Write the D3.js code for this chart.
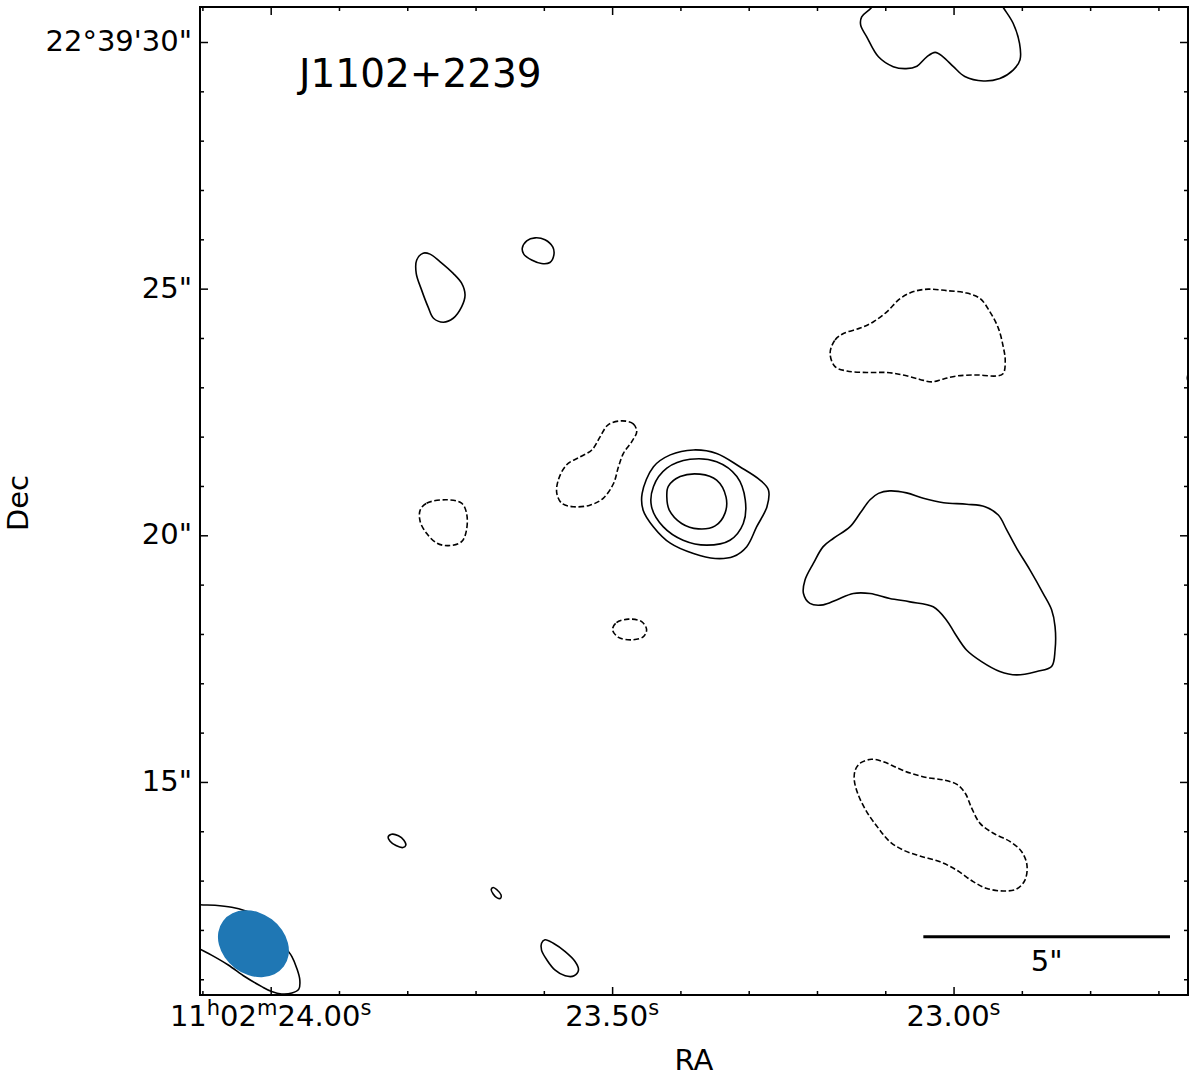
<!DOCTYPE html>
<html><head><meta charset="utf-8">
<script src="https://cdn.jsdelivr.net/npm/d3@7"></script>
<style>body{margin:0;background:#fff} svg text{font-family:"DejaVu Sans",sans-serif;fill:#000}</style>
</head><body><svg id="c" width="1200" height="1083"></svg>
<script>
// ---------- data (dx = arcsec west of 11h02m24.00s, dec = arcsec past 22°39') ----------
const title = "J1102+2239";
const raMajorSec = [24.00, 23.50, 23.00];
const raMajorLabels = [[["11",0],["h",1],["02",0],["m",1],["24.00",0],["s",1]], [["23.50",0],["s",1]], [["23.00",0],["s",1]]];
const decMajor = [30, 25, 20, 15];
const decMajorLabels = ["22°39'30\"", "25\"", "20\"", "15\""];

const posTopRight = [[12.18,30.70],[11.98,30.51],[11.96,30.34],[12.08,30.11],[12.32,29.70],[12.62,29.50],[12.88,29.46],[13.10,29.51],[13.30,29.70],[13.47,29.79],[13.63,29.70],[13.84,29.50],[14.07,29.30],[14.45,29.21],[14.78,29.26],[15.05,29.43],[15.19,29.64],[15.18,29.97],[15.05,30.38],[14.85,30.70],[14.60,31.10],[12.40,31.10]];
const posBlobA = [[3.09,25.72],[2.96,25.58],[2.95,25.31],[3.06,24.97],[3.19,24.63],[3.30,24.40],[3.50,24.32],[3.70,24.40],[3.87,24.63],[3.94,24.87],[3.87,25.11],[3.70,25.31],[3.43,25.55],[3.23,25.70]];
const posBlobB = [[5.10,25.82],[5.19,25.97],[5.36,26.03],[5.56,25.99],[5.72,25.84],[5.74,25.68],[5.66,25.53],[5.49,25.51],[5.29,25.58],[5.13,25.70]];
const coreOuter = [[7.76,21.39],[8.10,21.63],[8.57,21.73],[9.04,21.66],[9.51,21.39],[9.92,21.12],[10.09,20.92],[10.06,20.58],[9.85,20.17],[9.65,19.77],[9.38,19.57],[9.01,19.53],[8.57,19.63],[8.10,19.84],[7.76,20.17],[7.55,20.51],[7.53,20.85]];
const coreMid = [[7.76,20.99],[8.03,21.36],[8.50,21.54],[9.04,21.49],[9.45,21.19],[9.62,20.72],[9.58,20.24],[9.31,19.90],[8.84,19.80],[8.36,19.90],[7.96,20.17],[7.72,20.58]];
const coreInner = [[8.06,20.99],[8.30,21.19],[8.70,21.24],[9.04,21.12],[9.23,20.78],[9.21,20.45],[9.01,20.19],[8.67,20.13],[8.33,20.24],[8.08,20.51],[8.03,20.78]];
const posBlobF = [[12.32,20.85],[12.55,20.90],[12.89,20.86],[13.23,20.75],[13.64,20.66],[14.11,20.63],[14.48,20.58],[14.75,20.41],[14.92,20.11],[15.12,19.74],[15.39,19.30],[15.66,18.82],[15.83,18.49],[15.90,18.15],[15.90,17.67],[15.83,17.34],[15.53,17.24],[15.12,17.17],[14.78,17.24],[14.41,17.44],[14.11,17.67],[13.87,18.01],[13.70,18.28],[13.43,18.55],[12.96,18.65],[12.55,18.72],[12.15,18.82],[11.81,18.82],[11.47,18.69],[11.20,18.59],[10.93,18.62],[10.80,18.82],[10.83,19.09],[11.00,19.43],[11.20,19.77],[11.41,19.94],[11.74,20.17],[11.95,20.45],[12.15,20.72]];
const posTinyJ = [[2.38,13.88],[2.45,13.94],[2.59,13.91],[2.70,13.82],[2.74,13.72],[2.68,13.67],[2.54,13.71],[2.42,13.80]];
const posTinyK = [[4.47,12.82],[4.51,12.86],[4.59,12.81],[4.67,12.71],[4.66,12.64],[4.59,12.65],[4.51,12.73]];
const posDropM = [[5.49,11.73],[5.56,11.80],[5.73,11.73],[5.97,11.56],[6.17,11.36],[6.24,11.19],[6.15,11.07],[5.97,11.07],[5.76,11.19],[5.60,11.39],[5.49,11.59]];
const posEdgeL = [[-1.43,12.51],[-1.13,12.50],[-0.79,12.46],[-0.52,12.39],[-0.18,12.24],[0.09,12.00],[0.29,11.66],[0.43,11.46],[0.53,11.22],[0.59,10.99],[0.57,10.80],[0.43,10.72],[0.22,10.70],[0.02,10.75],[-0.18,10.85],[-0.52,11.05],[-0.86,11.29],[-1.20,11.49],[-1.43,11.61],[-1.90,11.85],[-1.90,12.55]];
const posEdgeR = [[18.58,23.19],[18.62,23.28],[18.72,23.31],[18.82,23.28],[18.86,23.19],[18.82,23.10],[18.72,23.07],[18.62,23.10]];

const negBlobC = [[7.12,22.32],[7.35,22.26],[7.42,22.10],[7.32,21.90],[7.15,21.66],[7.05,21.39],[6.95,21.05],[6.74,20.75],[6.47,20.61],[6.13,20.58],[5.90,20.65],[5.80,20.85],[5.83,21.12],[6.00,21.43],[6.27,21.59],[6.51,21.73],[6.68,22.00],[6.84,22.24]];
const negBlobD = [[3.03,20.51],[3.16,20.65],[3.57,20.72],[3.87,20.65],[3.97,20.45],[3.97,20.11],[3.87,19.87],[3.60,19.79],[3.37,19.84],[3.16,20.04],[3.03,20.28]];
const negBlobG = [[11.34,23.69],[11.44,23.96],[11.61,24.09],[11.95,24.20],[12.22,24.33],[12.49,24.53],[12.76,24.80],[13.03,24.94],[13.33,24.99],[13.70,24.96],[14.11,24.91],[14.38,24.80],[14.58,24.53],[14.75,24.20],[14.85,23.82],[14.89,23.55],[14.85,23.28],[14.72,23.23],[14.31,23.25],[13.91,23.23],[13.64,23.17],[13.40,23.11],[13.16,23.16],[12.82,23.25],[12.49,23.30],[12.08,23.30],[11.68,23.33],[11.44,23.42]];
const negBlobH = [[11.85,15.24],[11.95,15.38],[12.18,15.46],[12.42,15.41],[12.69,15.29],[12.96,15.18],[13.30,15.09],[13.64,15.04],[13.91,14.95],[14.08,14.77],[14.21,14.47],[14.38,14.16],[14.65,13.96],[14.99,13.79],[15.22,13.59],[15.33,13.32],[15.29,13.01],[15.12,12.83],[14.85,12.79],[14.52,12.84],[14.24,12.98],[13.91,13.21],[13.57,13.38],[13.16,13.50],[12.82,13.62],[12.55,13.79],[12.32,14.06],[12.08,14.40],[11.91,14.74],[11.83,15.04]];
const negBlobI = [[6.93,18.09],[7.01,18.23],[7.25,18.30],[7.52,18.25],[7.62,18.09],[7.55,17.94],[7.32,17.88],[7.05,17.93]];

const beamCenter = [-0.35, 11.72];
const beamMajor = 1.54, beamMinor = 1.24, beamPA = 53;
const scaleBarArcsec = 5;
const scaleBarEnd = [18.23, 11.86];

// ---------- layout ----------
const L = 200, T = 7, PW = 988, PH = 988;
const RA0 = 24.00;
const DEC0deg = 22 + 39/60 + 20/3600;
const asPerSec = 15*Math.cos(DEC0deg*Math.PI/180);
const raToDx = s => (RA0 - s)*asPerSec;

const x = d3.scaleLinear().domain([-1.433, 18.595]).range([L, L+PW]);
const y = d3.scaleLinear().domain([10.681, 30.7095]).range([T+PH, T]);
const pxPerAs = x(1) - x(0);

const svg = d3.select("#c");
svg.append("defs").append("clipPath").attr("id","clip")
  .append("rect").attr("x",L).attr("y",T).attr("width",PW).attr("height",PH);

const plot = svg.append("g").attr("clip-path","url(#clip)");
const line = d3.line().x(d=>x(d[0])).y(d=>y(d[1])).curve(d3.curveCatmullRomClosed.alpha(0.5));

const positive = [posTopRight,posBlobA,posBlobB,coreOuter,coreMid,coreInner,posBlobF,posTinyJ,posTinyK,posDropM,posEdgeL,posEdgeR];
const negative = [negBlobC,negBlobD,negBlobG,negBlobH,negBlobI];

plot.selectAll("path.pos").data(positive).join("path").attr("class","pos")
  .attr("d", line).attr("fill","none").attr("stroke","#000").attr("stroke-width",1.6);
plot.selectAll("path.neg").data(negative).join("path").attr("class","neg")
  .attr("d", line).attr("fill","none").attr("stroke","#000").attr("stroke-width",1.6)
  .attr("stroke-dasharray","5.5,2.6");

// beam
plot.append("ellipse")
  .attr("cx", x(beamCenter[0])).attr("cy", y(beamCenter[1]))
  .attr("rx", beamMajor/2*pxPerAs).attr("ry", beamMinor/2*pxPerAs)
  .attr("transform", `rotate(${90-beamPA},${x(beamCenter[0])},${y(beamCenter[1])})`)
  .attr("fill","#1f77b4");

// scale bar
svg.append("line")
  .attr("x1", x(scaleBarEnd[0]-scaleBarArcsec)).attr("x2", x(scaleBarEnd[0]))
  .attr("y1", y(scaleBarEnd[1])).attr("y2", y(scaleBarEnd[1]))
  .attr("stroke","#000").attr("stroke-width",3);
svg.append("text").attr("x", x(scaleBarEnd[0]-scaleBarArcsec/2)).attr("y", y(scaleBarEnd[1])+34)
  .attr("text-anchor","middle").attr("font-size",29).text(scaleBarArcsec+"\"");

// title
svg.append("text").attr("x",299).attr("y",87).attr("font-size",39).text(title);

// ---------- axes (ticks inward) ----------
const raMinorSec = d3.range(24.1, 22.6, -0.1).map(v=>+v.toFixed(2)).filter(v=>raMajorSec.indexOf(v)<0);
const decMinor = d3.range(11, 31, 1).filter(v=>decMajor.indexOf(v)<0);
const raMajorDx = raMajorSec.map(raToDx);
const raMinorDx = raMinorSec.map(raToDx).filter(v=>v>=x.domain()[0] && v<=x.domain()[1]);

function addAxis(axisFn, scale, vals, size, tr){
  const g = svg.append("g").attr("transform",tr)
    .call(axisFn(scale).tickValues(vals).tickSize(-size).tickFormat(""));
  g.select(".domain").remove();
  g.selectAll(".tick line").attr("stroke","#000").attr("stroke-width",1.5);
  return g;
}
addAxis(d3.axisBottom, x, raMajorDx, 8, `translate(0,${T+PH})`);
addAxis(d3.axisBottom, x, raMinorDx, 4, `translate(0,${T+PH})`);
addAxis(d3.axisTop, x, raMajorDx, 8, `translate(0,${T})`);
addAxis(d3.axisTop, x, raMinorDx, 4, `translate(0,${T})`);
addAxis(d3.axisLeft, y, decMajor, 8, `translate(${L},0)`);
addAxis(d3.axisLeft, y, decMinor, 4, `translate(${L},0)`);
addAxis(d3.axisRight, y, decMajor, 8, `translate(${L+PW},0)`);
addAxis(d3.axisRight, y, decMinor, 4, `translate(${L+PW},0)`);

// frame
svg.append("rect").attr("x",L).attr("y",T).attr("width",PW).attr("height",PH)
  .attr("fill","none").attr("stroke","#000").attr("stroke-width",2);

// y tick labels
svg.selectAll("text.ylab").data(decMajor).join("text").attr("class","ylab")
  .attr("x", L-8).attr("y", d=>y(d)+9).attr("text-anchor","end").attr("font-size",29)
  .text((d,i)=>decMajorLabels[i]);

// x tick labels with superscripts
raMajorDx.forEach((dx,i)=>{
  const t = svg.append("text").attr("x", x(dx)).attr("y", 1026).attr("text-anchor","middle").attr("font-size",29);
  let shift = 0;
  raMajorLabels[i].forEach(([s,sup])=>{
    const want = sup ? -11 : 0;
    t.append("tspan").attr("dy", want-shift).attr("font-size", sup?21:29).text(s);
    shift = want;
  });
});

// axis titles
svg.append("text").attr("x", L+PW/2).attr("y", 1070).attr("text-anchor","middle").attr("font-size",29).text("RA");
svg.append("text").attr("transform", `translate(28,${T+PH/2+2}) rotate(-90)`).attr("text-anchor","middle").attr("font-size",29).text("Dec");
</script></body></html>
